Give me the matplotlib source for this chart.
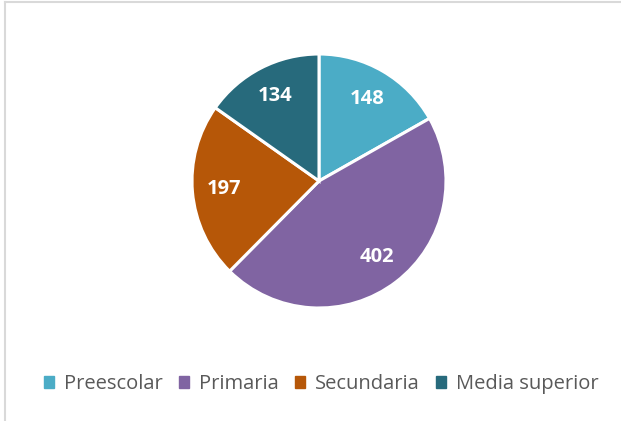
import matplotlib
matplotlib.use("Agg")
from matplotlib import pyplot as plt
from matplotlib.lines import Line2D

categories = ["Preescolar", "Primaria", "Secundaria", "Media superior"]
values = [148, 402, 197, 134]
colors = ["#4BACC6", "#8064A2", "#B65708", "#276A7C"]

plt.rcParams["font.family"] = ["Open Sans", "DejaVu Sans"]

fig = plt.figure(figsize=(6.21, 4.21), dpi=100)

# light grey frame (top and left edges visible)
fig.add_artist(Line2D([4.5 / 621, 1], [1 - 1.5 / 421, 1 - 1.5 / 421], color="#D9D9D9", lw=1.5))
fig.add_artist(Line2D([5 / 621, 5 / 621], [0, 1 - 1.5 / 421], color="#D9D9D9", lw=1.5))

ax = fig.add_axes([192 / 621, 113 / 421, 254 / 621, 254 / 421])
wedges, texts = ax.pie(values, colors=colors, startangle=90, counterclock=False,
                       labels=[str(v) for v in values], labeldistance=0.75,
                       wedgeprops=dict(edgecolor="white", linewidth=2.2),
                       textprops=dict(color="white", fontsize=14.5, fontweight="bold"))
for t in texts:
    t.set_ha("center")
    t.set_va("center")
ax.set_xlim(-1, 1)
ax.set_ylim(-1, 1)
ax.set_aspect("equal")

handles = [plt.Rectangle((0, 0), 1, 1, color=c) for c in colors]
fig.legend(handles, categories, loc="center", bbox_to_anchor=(0.518, 1 - 384 / 421),
           ncol=4, frameon=False, fontsize=14.5, labelcolor="#595959",
           handlelength=0.5, handleheight=0.5, handletextpad=0.5, columnspacing=0.8)

plt.savefig("out.png", dpi=100)
